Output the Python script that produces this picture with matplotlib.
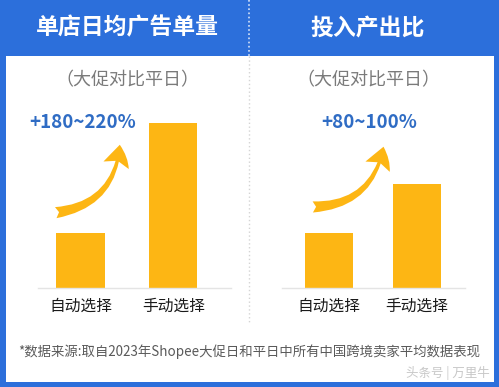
import matplotlib.pyplot as plt
from matplotlib.patches import Rectangle, FancyArrowPatch

plt.rcParams['font.family'] = ['Noto Sans CJK SC', 'DejaVu Sans']

BLUE = '#2c6fdb'
GOLD = '#fdb614'
TXT_BLUE = '#2f6cc4'

# data: 平日 = 1
categories = ['自动选择', '手动选择']
ad_orders = [1.0, 3.0]      # 单店日均广告单量
roi = [1.0, 1.9]            # 投入产出比
titles = ['单店日均广告单量', '投入产出比']
subtitle = '（大促对比平日）'
uplifts = ['+180~220%', '+80~100%']
source = '*数据来源:取自2023年Shopee大促日和平日中所有中国跨境卖家平均数据表现'

W, H = 499, 387
fig = plt.figure(figsize=(W / 100, H / 100), dpi=100)
fig.patch.set_facecolor(BLUE)

# background layer in pixel coords
bg = fig.add_axes([0, 0, 1, 1])
bg.set_xlim(0, W)
bg.set_ylim(H, 0)
bg.axis('off')
bg.add_patch(Rectangle((6, 56), 488, 326, facecolor='white', edgecolor='none'))
bg.plot([249, 249], [0, 56], ls=(0, (1, 1.5)), color='white', lw=1.2, alpha=0.8)
bg.plot([249, 249], [56, 322], ls=(0, (1, 1.8)), color='#d4d4d4', lw=1)

centers = [127, 368]
for cx, t, up in zip(centers, titles, uplifts):
    bg.text(cx, 28, t, color='white', fontsize=16.5, fontweight='bold',
            ha='center', va='center')
    bg.text(cx, 80, subtitle, color='#7a7a7a', fontsize=13,
            ha='center', va='center')
bg.text(83, 123, uplifts[0], color=TXT_BLUE, fontsize=13.5, fontweight='bold',
        ha='center', va='center')
bg.text(369, 123, uplifts[1], color=TXT_BLUE, fontsize=13.5, fontweight='bold',
        ha='center', va='center')

# curved arrows
for tail, head in [((53, 213), (120, 142)), ((310, 207), (384, 144))]:
    arr = FancyArrowPatch(tail, head, connectionstyle='arc3,rad=0.42',
                          arrowstyle='fancy,head_length=1.5,head_width=1.9,tail_width=0.8',
                          mutation_scale=10, color=GOLD, lw=0)
    bg.add_patch(arr)

bg.text(18, 352, source, color='#5a5a5a', fontsize=9.65, ha='left', va='center')
bg.text(490, 373, '头条号 | 万里牛', color='#c8c8c8', fontsize=9,
        ha='right', va='center')


def bar_panel(x0, x1, xmin, xmax, vals, width):
    base = 288.3
    top = 100
    ax = fig.add_axes([x0 / W, (H - base) / H, (x1 - x0) / W, (base - top) / H])
    ax.set_facecolor('none')
    ax.bar(range(len(vals)), vals, width=width, color=GOLD)
    ax.set_xlim(xmin, xmax)
    ax.set_ylim(0, 3.42)
    ax.set_yticks([])
    ax.set_xticks(range(len(vals)), categories, fontsize=11.3, color='#1a1a1a')
    ax.tick_params(axis='x', length=0, pad=7)
    for s in ['top', 'left', 'right']:
        ax.spines[s].set_visible(False)
    ax.spines['bottom'].set_color('#e4e4e4')
    ax.spines['bottom'].set_linewidth(1)
    return ax


bar_panel(38, 231, -0.458, 1.622, ad_orders, 0.52)
bar_panel(281.7, 465, -0.539, 1.551, roi, 0.55)

fig.savefig('out.png', dpi=100, facecolor=BLUE)
